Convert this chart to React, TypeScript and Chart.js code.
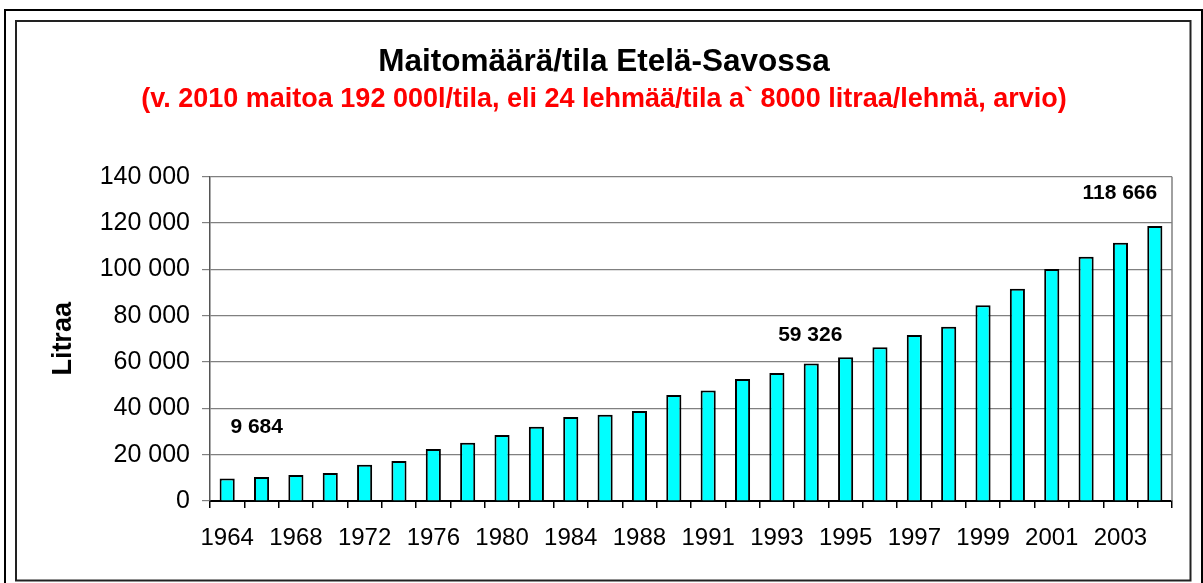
import { useEffect, useRef } from 'react';
import { Chart, registerables } from 'chart.js';

Chart.register(...registerables);

// ---- data ----
const years = [
  '1964', '1966', '1968', '1970', '1972', '1974', '1976', '1978', '1980', '1982',
  '1984', '1986', '1988', '1990', '1991', '1992', '1993', '1994', '1995', '1996',
  '1997', '1998', '1999', '2000', '2001', '2002', '2003', '2004',
];
const litresPerFarm = [
  9684, 10400, 11200, 12100, 15700, 17300, 22500, 25100, 28500, 32000,
  36300, 37200, 38900, 45800, 47700, 52700, 55300, 59326, 62100, 66400,
  71700, 75200, 84500, 91600, 100200, 105400, 111500, 118666,
];
const labelledIndices = [0, 17, 27];
const yTickMin = 0;
const yTickMax = 140000;
const yTickStep = 20000;
const titleText = 'Maitomäärä/tila Etelä-Savossa';
const subtitleText = '(v. 2010 maitoa 192 000l/tila, eli 24 lehmää/tila a` 8000 litraa/lehmä, arvio)';
const yAxisTitle = 'Litraa';

// ---- style ----
const FONT = '"Liberation Sans", Arial, Helvetica, sans-serif';
const labelOffsets: Record<number, [number, number]> = {
  0: [29.5, -51],
  17: [-1, -28],
  27: [-35, -33],
};
const TITLE_X = 604;

const fmt = (v: number) => String(v).replace(/\B(?=(\d{3})+(?!\d))/g, ' ');

const framePlugin = {
  id: 'frames',
  beforeDraw(chart: any) {
    const ctx = chart.ctx as CanvasRenderingContext2D;
    ctx.save();
    ctx.fillStyle = '#fff';
    ctx.fillRect(0, 0, chart.width, chart.height);
    // outer frame
    ctx.strokeStyle = '#000';
    ctx.lineWidth = 2;
    ctx.beginPath();
    ctx.moveTo(5, 600);
    ctx.lineTo(5, 10);
    ctx.lineTo(1202, 10);
    ctx.lineTo(1202, 600);
    ctx.stroke();
    // inner frame
    ctx.strokeStyle = '#222';
    ctx.lineWidth = 2;
    ctx.strokeRect(16, 21, 1174.5, 559.5);
    // titles
    ctx.textAlign = 'center';
    ctx.textBaseline = 'alphabetic';
    ctx.fillStyle = '#000';
    ctx.font = `bold 31.5px ${FONT}`;
    ctx.fillText(titleText, TITLE_X, 71);
    ctx.fillStyle = '#FF0000';
    ctx.font = `bold 27px ${FONT}`;
    ctx.fillText(subtitleText, TITLE_X, 106.5);
    ctx.restore();
  },
  beforeDatasetsDraw(chart: any) {
    const { ctx, chartArea } = chart;
    ctx.save();
    ctx.strokeStyle = '#808080';
    ctx.lineWidth = 1.5;
    ctx.beginPath();
    ctx.moveTo(chartArea.right, chartArea.top);
    ctx.lineTo(chartArea.right, chartArea.bottom);
    ctx.stroke();
    ctx.restore();
  },
};

const valueLabelPlugin = {
  id: 'valueLabels',
  afterDatasetsDraw(chart: any) {
    const { ctx } = chart;
    const meta = chart.getDatasetMeta(0);
    ctx.save();
    ctx.font = `bold 21px ${FONT}`;
    ctx.fillStyle = '#000';
    ctx.textAlign = 'center';
    ctx.textBaseline = 'middle';
    labelledIndices.forEach((i) => {
      const bar = meta.data[i];
      const [dx, dy] = labelOffsets[i] || [0, -12];
      ctx.fillText(fmt(litresPerFarm[i]), bar.x + dx, bar.y + dy);
    });
    ctx.restore();
  },
};

export default function App() {
  const ref = useRef<HTMLCanvasElement>(null);

  useEffect(() => {
    if (!ref.current) return;
    const chart = new Chart(ref.current, {
      type: 'bar',
      data: {
        labels: years,
        datasets: [
          {
            data: litresPerFarm,
            backgroundColor: '#00FFFF',
            borderColor: '#000',
            borderWidth: 2,
            categoryPercentage: 1,
            barPercentage: 0.44,
          },
        ],
      },
      options: {
        responsive: false,
        animation: false,
        devicePixelRatio: 1,
        layout: { padding: { left: 0, right: 31, top: 176.7, bottom: 0 } },
        plugins: {
          legend: { display: false },
          tooltip: { enabled: false },
          title: { display: false },
          subtitle: { display: false },
        },
        scales: {
          x: {
            afterFit: (s: any) => { s.height = 82; },
            grid: {
              display: true,
              drawOnChartArea: false,
              drawTicks: true,
              tickLength: 7,
              color: '#000',
              lineWidth: 1.5,
              offset: true,
            },
            border: { color: '#000', width: 2 },
            ticks: {
              autoSkip: false,
              maxRotation: 0,
              minRotation: 0,
              padding: 16,
              color: '#000',
              font: { family: FONT, size: 24 },
              callback: function (this: any, val: any, idx: number) {
                return idx % 2 === 0 ? this.getLabelForValue(val) : '';
              },
            },
          },
          y: {
            min: yTickMin,
            max: yTickMax,
            afterFit: (s: any) => { s.width = 210; },
            grid: {
              color: '#808080',
              lineWidth: 1.2,
              tickLength: 8,
              tickColor: '#808080',
            },
            border: { color: '#555', width: 1.5 },
            ticks: {
              stepSize: yTickStep,
              padding: 12,
              color: '#000',
              font: { family: FONT, size: 25 },
              callback: (v: any) => fmt(Number(v)),
            },
            title: {
              display: true,
              text: yAxisTitle,
              color: '#000',
              font: { family: FONT, size: 27, weight: 'bold', lineHeight: 1.2 },
              padding: { top: 47, bottom: 0 },
            },
          },
        },
      },
      plugins: [framePlugin, valueLabelPlugin],
    });
    return () => chart.destroy();
  }, []);

  return (
    <canvas
      ref={ref}
      width={1203}
      height={583}
      style={{ position: 'absolute', left: 0, top: 0, display: 'block' }}
    />
  );
}
